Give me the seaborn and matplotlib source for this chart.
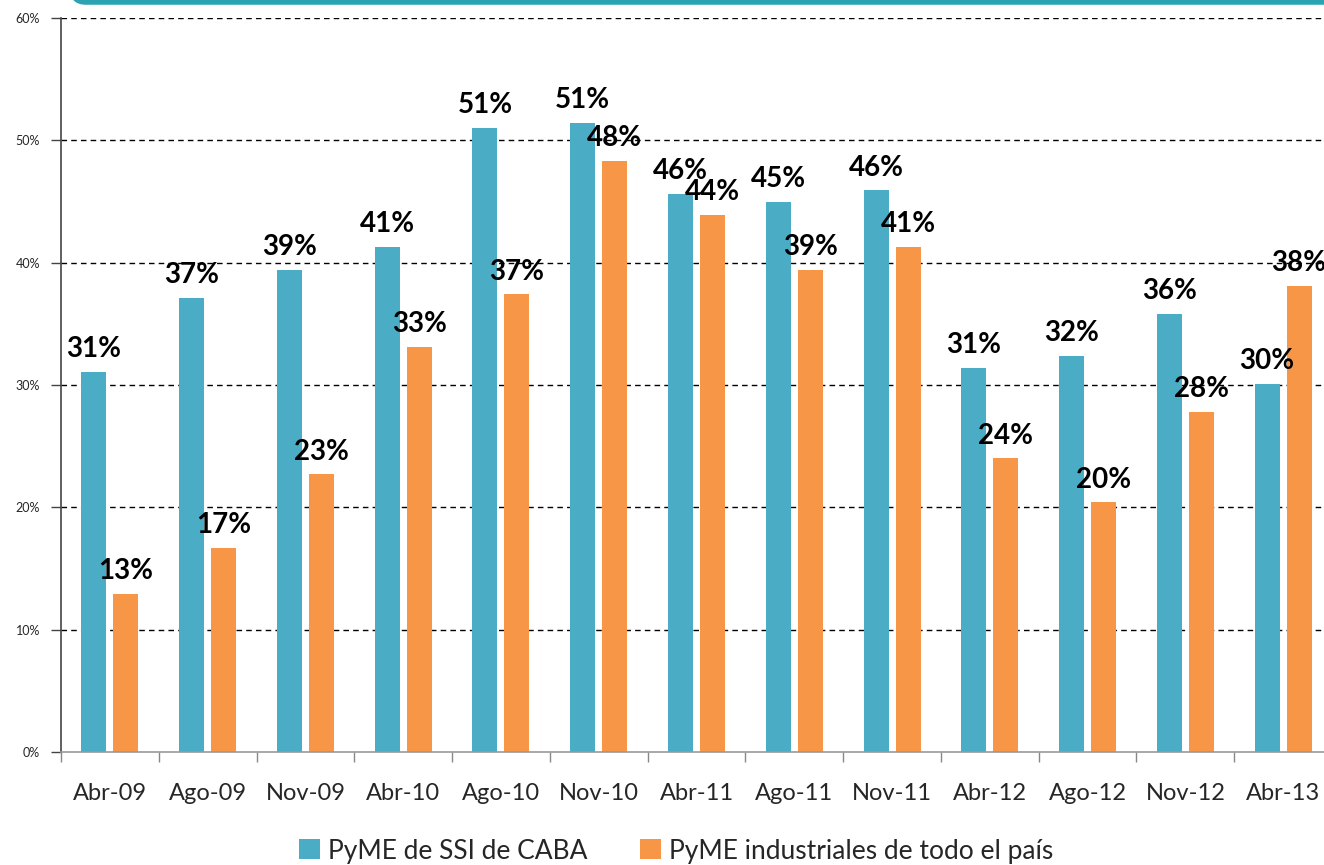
import matplotlib
matplotlib.use("Agg")
import matplotlib.pyplot as plt
from matplotlib.patches import FancyBboxPatch, Patch
import seaborn as sns
import pandas as pd

categories = ["Abr-09", "Ago-09", "Nov-09", "Abr-10", "Ago-10", "Nov-10", "Abr-11",
              "Ago-11", "Nov-11", "Abr-12", "Ago-12", "Nov-12", "Abr-13"]
caba = [31.1, 37.1, 39.4, 41.3, 51.0, 51.4, 45.6, 45.0, 45.9, 31.4, 32.4, 35.8, 30.1]
pais = [12.9, 16.7, 22.7, 33.1, 37.4, 48.3, 43.9, 39.4, 41.3, 24.0, 20.4, 27.8, 38.1]
series_names = ["PyME de SSI de CABA", "PyME industriales de todo el país"]
yticks = [0, 10, 20, 30, 40, 50, 60]

colors = ["#4BACC6", "#F79646"]

df = pd.DataFrame({
    "cat": categories * 2,
    "val": caba + pais,
    "serie": [series_names[0]] * len(categories) + [series_names[1]] * len(categories),
})

sns.set_theme(style="white")
plt.rcParams["font.family"] = ["Lato", "DejaVu Sans"]

fig = plt.figure(figsize=(13.24, 8.65), dpi=100)
ax = fig.add_axes([61 / 1324, 113 / 865, 1271 / 1324, 734 / 865])

sns.barplot(data=df, x="cat", y="val", hue="serie", order=categories,
            hue_order=series_names, palette=colors, width=0.655, gap=0.22,
            saturation=1, ax=ax, legend=False, linewidth=0)

for cont, vals in zip(ax.containers, [caba, pais]):
    ax.bar_label(cont, labels=[f"{v:.0f}%" for v in vals], padding=7,
                 fontsize=20, fontweight="bold", color="black")

ax.set_ylim(0, 60)
ax.set_xlim(-0.5, len(categories) - 0.5)
ax.set_yticks(yticks)
ax.set_yticklabels([f"{t}%" for t in yticks], fontsize=9)
ax.set_xlabel("")
ax.set_ylabel("")

for t in yticks[1:]:
    ax.axhline(t, color="black", linestyle=(0, (4, 3)), linewidth=1, zorder=0)

ax.set_xticks(range(len(categories)))
ax.set_xticklabels(categories, fontsize=17)
ax.set_xticks([i - 0.5 for i in range(len(categories) + 1)], minor=True)
ax.tick_params(axis="x", which="major", length=0, pad=22)
ax.tick_params(axis="x", which="minor", length=7, width=1, color="#888888", direction="out", bottom=True)
ax.tick_params(axis="y", length=7, width=1, color="#444444", direction="out", left=True, pad=8)

for s in ["top", "right"]:
    ax.spines[s].set_visible(False)
ax.spines["left"].set_color("#444444")
ax.spines["bottom"].set_color("#999999")
ax.spines["left"].set_linewidth(1.2)
ax.spines["bottom"].set_linewidth(1.2)

handles = [Patch(facecolor=c, edgecolor="none") for c in colors]
fig.legend(handles, series_names, loc="center", bbox_to_anchor=(676 / 1324, 14 / 865),
           ncol=2, frameon=False, fontsize=19, handlelength=0.8, handleheight=0.8,
           handletextpad=0.3, columnspacing=2.0)

bar = FancyBboxPatch((70 / 1324, 0.9945), 1.0, 0.03, boxstyle="round,pad=0,rounding_size=0.012",
                     transform=fig.transFigure, facecolor="#2CA3B0", edgecolor="none",
                     mutation_aspect=1324 / 865)
fig.patches.append(bar)

fig.savefig("out.png", dpi=100)
